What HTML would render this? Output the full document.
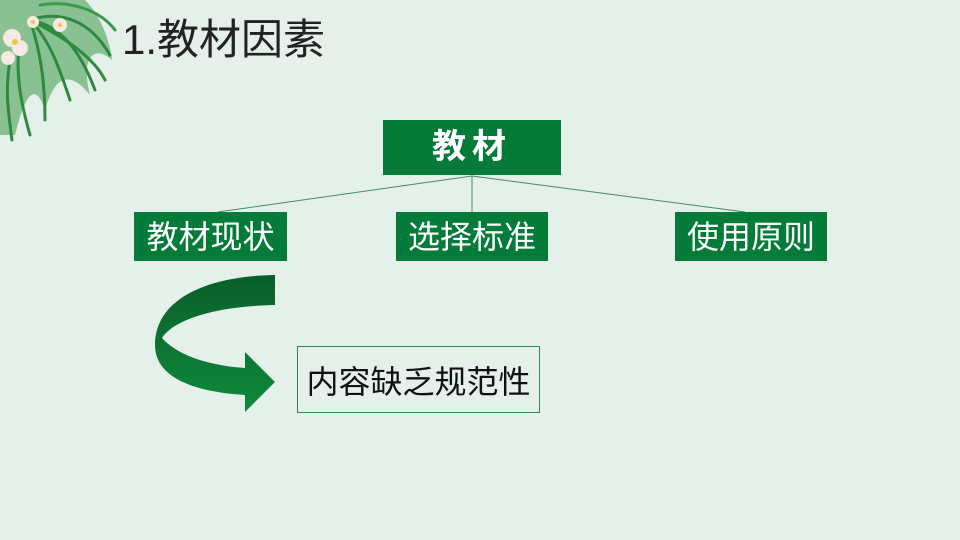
<!DOCTYPE html>
<html><head><meta charset="utf-8"><style>
body{margin:0;width:960px;height:540px;background:#e4f0e9;position:relative;overflow:hidden;font-family:"Liberation Sans","Noto Sans CJK SC",sans-serif}
.t{position:absolute;left:122px;top:6px;font-size:42px;color:#222}
.b{position:absolute;background:#047b39;color:#fff;text-align:center}
.s{font-size:32px;height:49px;line-height:51px;top:212px}
</style></head><body>
<svg width="960" height="540" style="position:absolute;left:0;top:0">
<defs><linearGradient id="g" x1="0" y1="0" x2="0" y2="1"><stop offset="0" stop-color="#0a5e2a"/><stop offset="1" stop-color="#0f8a3c"/></linearGradient></defs>
<g stroke="#3f8f5e" stroke-width="1" fill="none">
<line x1="472" y1="176" x2="218" y2="212"/><line x1="472" y1="176" x2="472" y2="212"/><line x1="472" y1="176" x2="745" y2="212"/></g>
<path d="M275 275 L275 305 C220 306 175 318 162 338 C180 358 215 366 245 368 L245 352 L275 382 L245 412 L245 395 C195 392 155 378 155 345 C155 300 205 276 275 275Z" fill="url(#g)"/>
<path d="M20 0 L85 0 C100 15 110 40 112 60 C95 45 80 55 90 95 C70 70 55 75 45 110 C35 80 25 95 15 135 L0 135 L0 0Z" fill="#3e9a4a" opacity=".55"/>
<g stroke="#2e8a3e" stroke-width="3" fill="none" stroke-linecap="round">
<path d="M30 20 C60 10 90 20 110 55"/><path d="M30 20 C60 25 80 50 95 90"/><path d="M30 20 C50 40 60 70 70 100"/>
<path d="M30 20 C40 50 45 80 45 120"/><path d="M20 40 C15 70 20 100 30 135"/><path d="M10 60 C5 90 8 110 12 140"/>
<path d="M40 5 C70 0 100 10 115 30" stroke="#3a9a4a"/><path d="M30 20 C70 40 95 60 105 80"/></g>
<g fill="#f5e9e4"><circle cx="12" cy="38" r="9"/><circle cx="20" cy="48" r="8"/><circle cx="33" cy="22" r="6"/><circle cx="8" cy="58" r="7"/><circle cx="60" cy="25" r="7"/></g>
<g fill="#f0c44a"><circle cx="15" cy="42" r="3"/><circle cx="33" cy="22" r="2"/><circle cx="60" cy="25" r="2"/></g>
</svg>
<div class="t">1.教材因素</div>
<div class="b" style="left:383px;top:120px;width:178px;height:55px;line-height:55px;font-size:34px;font-weight:bold;letter-spacing:6px">教材</div>
<div class="b s" style="left:134px;width:153px">教材现状</div>
<div class="b s" style="left:396px;width:152px">选择标准</div>
<div class="b s" style="left:675px;width:152px">使用原则</div>
<div style="position:absolute;left:297px;top:346px;width:241px;height:65px;border:1px solid #2f8a4a;line-height:70px;text-align:center;font-size:32px;color:#111">内容缺乏规范性</div>
</body></html>
